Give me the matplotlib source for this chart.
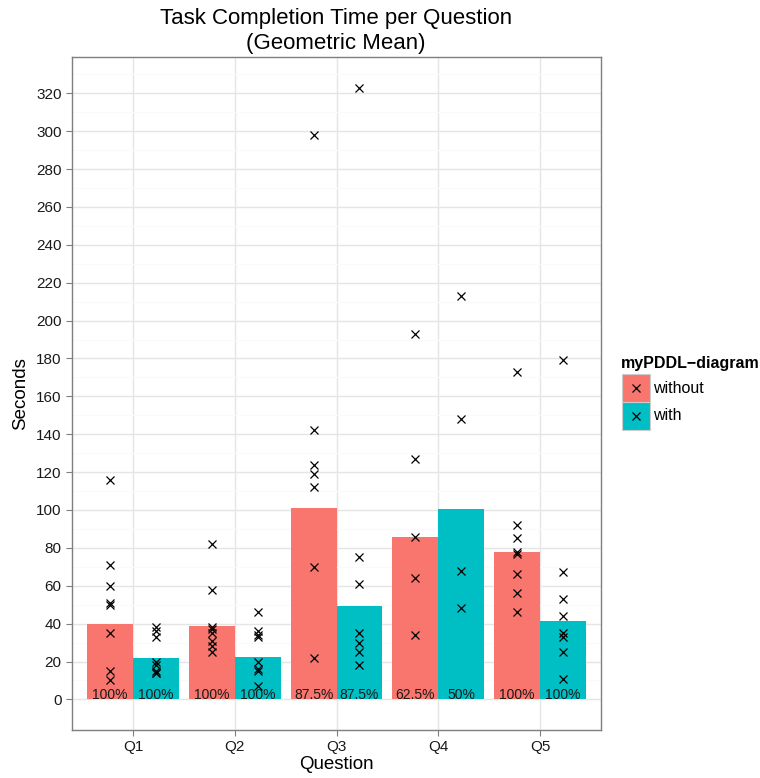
import numpy as np
import matplotlib
matplotlib.use("Agg")
import matplotlib.pyplot as plt
from matplotlib.patches import Rectangle
from matplotlib.lines import Line2D

plt.rcParams['font.family'] = ['Liberation Sans', 'DejaVu Sans']

questions = ["Q1", "Q2", "Q3", "Q4", "Q5"]
groups = ["without", "with"]
colors = ["#F8766D", "#00BFC4"]

# individual completion times (s), successful participants only
times_without = [
    [116, 71, 60, 51, 50, 35, 15, 10],
    [82, 58, 38, 37, 35, 31, 28, 25],
    [298, 142, 124, 119, 112, 70, 22],
    [193, 127, 86, 64, 34],
    [173, 92, 85, 78, 77, 66, 56, 46],
]
times_with = [
    [38, 36, 33, 20, 18, 15, 14, 14],
    [46, 36, 34, 33, 20, 16, 15, 7],
    [323, 75, 61, 35, 30, 25, 18],
    [213, 148, 68, 48],
    [179, 67, 53, 44, 35, 33, 25, 11],
]
success_without = ["100%", "100%", "87.5%", "62.5%", "100%"]
success_with = ["100%", "100%", "87.5%", "50%", "100%"]

W, H = 760, 778
fig = plt.figure(figsize=(W / 100, H / 100), dpi=100)
ax = fig.add_axes([72 / W, (H - 730) / H, (601 - 72) / W, (730 - 57) / H])

x = np.arange(1, len(questions) + 1)
bw = 0.45
series = [(times_without, success_without), (times_with, success_with)]
for i, (times, labels) in enumerate(series):
    xs = x + (i - 0.5) * bw
    gm = [np.exp(np.mean(np.log(t))) for t in times]
    ax.bar(xs, gm, width=bw, color=colors[i], zorder=2)
    for xi, t in zip(xs, times):
        ax.plot([xi] * len(t), t, linestyle='none', marker='x', color='black',
                markersize=6, markeredgewidth=0.9, zorder=4)
    for xi, lab in zip(xs, labels):
        ax.text(xi, 0, lab, ha='center', va='baseline', fontsize=10,
                color='#1a1a1a', zorder=5)

allmax = max(max(max(t) for t in times_without), max(max(t) for t in times_with))
pad = allmax * 0.05
ax.set_ylim(-pad, allmax + pad)
ax.set_xlim(0.4, 5.6)

ax.set_yticks(np.arange(0, 321, 20))
ax.set_yticks(np.arange(10, 331, 20), minor=True)
ax.set_xticks(x)
ax.set_xticklabels(questions)
ax.grid(which='major', color='#e5e5e5', linewidth=1.0, zorder=0)
ax.grid(which='minor', axis='y', color='#fafafa', linewidth=0.8, zorder=0)
ax.set_axisbelow(True)
ax.tick_params(which='major', direction='out', length=4.5, width=0.8,
               color='#7f7f7f', labelsize=11, labelcolor='#1a1a1a', pad=3)
ax.tick_params(which='minor', length=0)
for s in ax.spines.values():
    s.set_color('#7f7f7f')
    s.set_linewidth(1.0)

ax.set_xlabel("Question", fontsize=13.5, labelpad=1)
ax.set_ylabel("Seconds", fontsize=13.5, labelpad=5)
fig.text(336 / W, 1 - 31 / H, "Task Completion Time per Question\n(Geometric Mean)",
         ha='center', va='center', fontsize=16, linespacing=1.2)

# legend drawn by hand
fig.text(621 / W, 1 - 364 / H, "myPDDL\u2212diagram", fontsize=11.5, fontweight='bold',
         ha='left', va='center')
for i, g in enumerate(groups):
    top = 374 + 28 * i
    fig.patches.append(Rectangle((622 / W, 1 - (top + 28) / H), 28 / W, 28 / H,
                                 transform=fig.transFigure, facecolor=colors[i],
                                 edgecolor='#cccccc', linewidth=0.8))
    fig.lines.append(Line2D([636 / W], [1 - (top + 14) / H], transform=fig.transFigure,
                            marker='x', color='black', markersize=6,
                            markeredgewidth=0.9, linestyle='none'))
    fig.text(653 / W, 1 - (top + 14) / H, g, fontsize=11.5, ha='left', va='center')

fig.savefig("out.png", dpi=100)
